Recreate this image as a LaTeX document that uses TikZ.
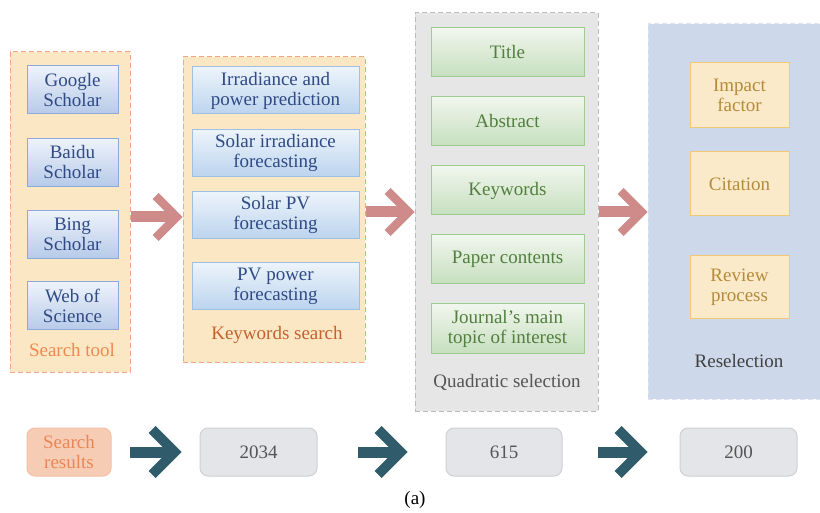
\documentclass[tikz,border=0pt]{standalone}
\usepackage{fontspec}
\setmainfont{Liberation Serif}
\usetikzlibrary{calc}

\definecolor{grpfill}{HTML}{FCE7C5}
\definecolor{grpline}{HTML}{F2A483}
\definecolor{bluetop}{HTML}{EEF3FB}
\definecolor{bluebot}{HTML}{B6CAE8}
\definecolor{blueline}{HTML}{8DAADB}
\definecolor{bluetext}{HTML}{2F4A85}
\definecolor{kwtop}{HTML}{EDF4FB}
\definecolor{kwbot}{HTML}{BCD4EE}
\definecolor{kwline}{HTML}{9DC0E4}
\definecolor{stlabel}{HTML}{EE8A50}
\definecolor{kwlabel}{HTML}{C4612E}
\definecolor{quadfill}{HTML}{E6E6E6}
\definecolor{quadline}{HTML}{BBBBBB}
\definecolor{greentop}{HTML}{F1F6EE}
\definecolor{greenbot}{HTML}{C6DFBE}
\definecolor{greenline}{HTML}{9ACD8E}
\definecolor{greentext}{HTML}{527F3E}
\definecolor{resfill}{HTML}{CDD9EB}
\definecolor{resline}{HTML}{DDE4EF}
\definecolor{goldfill}{HTML}{FAEACA}
\definecolor{goldline}{HTML}{F3C874}
\definecolor{goldtext}{HTML}{B58A3A}
\definecolor{rosearrow}{HTML}{CF8A8A}
\definecolor{tealarrow}{HTML}{2F5B6A}
\definecolor{srfill}{HTML}{F7CCB5}
\definecolor{srline}{HTML}{F6BFA4}
\definecolor{srtext}{HTML}{EA8656}
\definecolor{cntfill}{HTML}{E4E5E8}
\definecolor{cntline}{HTML}{CFD0D3}
\definecolor{cnttext}{HTML}{555555}

% thick block arrow with a chevron head: start, tip, colour, arm length, arm offset
\newcommand{\fatarrow}[5]{%
  \fill[#3] let \p1=(#1), \p2=(#2) in
    (\x1,\y2-5.5pt) rectangle (\x2-2*#5,\y2+5.5pt);
  \fill[#3] let \p2=(#2) in
    (\x2,\y2) -- (\x2-#4,\y2+#4) -- (\x2-#4-#5,\y2+#4-#5) -- (\x2-2*#5,\y2)
    -- (\x2-#4-#5,\y2-#4+#5) -- (\x2-#4,\y2-#4) -- cycle;
}

\tikzset{
  txt/.style={font=\fontsize{19}{20}\selectfont, inner sep=0pt, align=center},
  group/.style={txt, rectangle, line width=1pt, dash pattern=on 5pt off 3pt},
  orangegroup/.style={group, draw=grpline, fill=grpfill},
  bluebox/.style={txt, rectangle, draw=blueline, line width=1pt, top color=bluetop,
    bottom color=bluebot, text=bluetext, minimum width=91pt, minimum height=48pt},
  kwbox/.style={txt, rectangle, draw=kwline, line width=1pt, top color=kwtop,
    bottom color=kwbot, text=bluetext, minimum width=167pt, minimum height=47pt},
  greenbox/.style={txt, rectangle, draw=greenline, line width=1pt, top color=greentop,
    bottom color=greenbot, text=greentext, minimum width=153pt, minimum height=49pt},
  goldbox/.style={txt, rectangle, draw=goldline, line width=1pt, fill=goldfill,
    text=goldtext, minimum width=99pt},
  countbox/.style={txt, rectangle, rounded corners=8pt, draw=cntline, line width=1pt,
    fill=cntfill, text=cnttext, minimum width=117pt, minimum height=48pt},
}

\begin{document}
\begin{tikzpicture}[x=1pt, y=-1pt]
\clip (0,0) rectangle (820,513);
\useasboundingbox (0,0) rectangle (820,513);
\fill[white] (0,0) rectangle (820,513);

% search tools
\node[orangegroup, minimum width=120pt, minimum height=320pt] (search) at (70,212) {};
\node[bluebox] (google) at (72.5,90) {Google\\Scholar};
\node[bluebox] (baidu) at (72.5,162.5) {Baidu\\Scholar};
\node[bluebox] (bing) at (72.5,234.5) {Bing\\Scholar};
\node[bluebox] (wos) at (72.5,306) {Web of\\Science};
\node[txt, text=stlabel] (searchlbl) at (72,350) {Search tool};

% keywords
\node[orangegroup, minimum width=182pt, minimum height=305pt] (kw) at (274,209.5) {};
\node[kwbox] (kw1) at (275.5,90.5) {Irradiance and\\power prediction};
\node[kwbox] (kw2) at (275.5,153) {Solar irradiance\\forecasting};
\node[kwbox] (kw3) at (275.5,215) {Solar PV\\forecasting};
\node[kwbox] (kw4) at (275.5,286) {PV power\\forecasting};
\node[txt, text=kwlabel] (kwlbl) at (277,335) {Keywords search};

% quadratic selection
\node[group, draw=quadline, fill=quadfill, minimum width=183pt, minimum height=398pt] (quad) at (506.5,212) {};
\node[greenbox] (title) at (507.5,52.5) {Title};
\node[greenbox] (abstract) at (507.5,121.5) {Abstract};
\node[greenbox] (keywords) at (507.5,190.5) {Keywords};
\node[greenbox] (contents) at (507.5,259.5) {Paper contents};
\node[greenbox] (journal) at (507.5,328.5) {Journal’s main\\topic of interest};
\node[txt, text=cnttext] (quadlbl) at (507,382) {Quadratic selection};

% reselection
\node[group, draw=resline, fill=resfill, minimum width=174pt, minimum height=375pt] (resel) at (735,211.5) {};
\node[goldbox, minimum height=65pt] (impact) at (739.5,95.5) {Impact\\factor};
\node[goldbox, minimum height=64pt] (citation) at (739.5,184) {Citation};
\node[goldbox, minimum height=63pt] (review) at (739.5,287.5) {Review\\process};
\node[txt, text=black!75] (resellbl) at (739,361) {Reselection};

% stage arrows
\coordinate (a1s) at (search.east |- 0,217);
\coordinate (a1e) at (kw.west |- 0,217);
\coordinate (a2s) at (kw.east |- 0,212);
\coordinate (a2e) at (quad.west |- 0,212);
\coordinate (a3s) at (quad.east |- 0,212);
\coordinate (a3e) at (resel.west |- 0,212);
\fatarrow{a1s}{a1e}{rosearrow}{24pt}{6pt}
\fatarrow{a2s}{a2e}{rosearrow}{24pt}{6pt}
\fatarrow{a3s}{a3e}{rosearrow}{24pt}{6pt}

% counts
\node[txt, rectangle, rounded corners=8pt, draw=srline, line width=1pt, fill=srfill,
  text=srtext, minimum width=84pt, minimum height=48pt] (results) at (69,452) {Search\\results};
\node[countbox] (n2034) at (258.5,452) {2034};
\node[countbox, minimum width=116pt] (n615) at (504,452) {615};
\node[countbox] (n200) at (738.5,452) {200};

\coordinate (b1s) at ($(results.east)+(18,0)$);
\coordinate (b1e) at ($(n2034.west)+(-18,0)$);
\coordinate (b2s) at ($(n2034.east)+(40,0)$);
\coordinate (b2e) at ($(n615.west)+(-38,0)$);
\coordinate (b3s) at ($(n615.east)+(35,0)$);
\coordinate (b3e) at ($(n200.west)+(-32,0)$);
\fatarrow{b1s}{b1e}{tealarrow}{26pt}{7pt}
\fatarrow{b2s}{b2e}{tealarrow}{26pt}{7pt}
\fatarrow{b3s}{b3e}{tealarrow}{26pt}{7pt}

\node[txt, text=black] (caption) at (415,500) {(a)};
\end{tikzpicture}
\end{document}
